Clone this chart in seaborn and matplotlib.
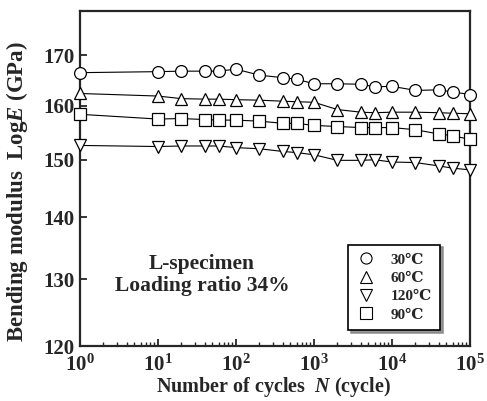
import numpy as np
import pandas as pd
import seaborn as sns
import matplotlib
matplotlib.use("Agg")
import matplotlib.pyplot as plt
from matplotlib.lines import Line2D
from matplotlib.ticker import NullLocator, LogLocator

# data
cycles = [1, 10, 20, 40, 60, 100, 200, 400, 600, 1000, 2000, 4000, 6000,
          1e4, 2e4, 4e4, 6e4, 1e5]
e_30 = [166.5, 166.7, 166.8, 166.8, 166.8, 167.2, 166.0, 165.5, 165.2, 164.3,
        164.3, 164.2, 163.7, 163.8, 163.0, 163.1, 162.7, 162.2]
e_60 = [162.4, 161.9, 161.4, 161.3, 161.3, 161.2, 161.1, 160.9, 160.8, 160.7,
        159.3, 158.8, 158.7, 158.8, 158.8, 158.7, 158.6, 158.5]
e_120 = [152.6, 152.4, 152.5, 152.5, 152.5, 152.2, 152.0, 151.5, 151.3, 150.9,
         149.9, 149.9, 150.0, 149.6, 149.5, 148.9, 148.5, 148.2]
e_90 = [158.4, 157.5, 157.6, 157.4, 157.3, 157.3, 157.1, 156.7, 156.7, 156.3,
        156.1, 155.9, 155.9, 155.9, 155.5, 154.7, 154.4, 153.7]

series = {'30℃': (e_30, 'o'), '60℃': (e_60, '^'),
          '120℃': (e_120, 'v'), '90℃': (e_90, 's')}
yticks = [120, 130, 140, 150, 160, 170]
xticks = [1, 10, 100, 1000, 1e4, 1e5]
xticklabels = ['$10^{%d}$' % i for i in range(6)]

sns.set_style('ticks')
plt.rcParams['font.family'] = ['Liberation Serif', 'DejaVu Serif']
plt.rcParams['font.weight'] = 'bold'
plt.rcParams['mathtext.fontset'] = 'custom'
plt.rcParams['mathtext.rm'] = 'Liberation Serif:bold'
plt.rcParams['mathtext.it'] = 'Liberation Serif:italic:bold'
plt.rcParams['mathtext.bf'] = 'Liberation Serif:bold'

fig, ax = plt.subplots(figsize=(4.87, 4.01), dpi=100)
fig.subplots_adjust(left=0.164, right=0.965, top=0.973, bottom=0.137)

handles = []
for name, (vals, mk) in series.items():
    df = pd.DataFrame({'N': cycles, 'E': vals})
    sns.lineplot(data=df, x='N', y='E', ax=ax, color='black', lw=0.8,
                 marker=mk, markersize=8.5, markerfacecolor='white',
                 markeredgecolor='black', markeredgewidth=0.9, zorder=3,
                 clip_on=False)
    handles.append(Line2D([], [], ls='none', marker=mk, markersize=8,
                          markerfacecolor='white', markeredgecolor='black',
                          markeredgewidth=0.8, label=name))

ax.set_xscale('log')
ax.set_yscale('log')
ax.set_xlim(1, 1e5)
ax.set_ylim(120, 179.3)
ax.set_yticks(yticks)
ax.set_yticklabels([str(t) for t in yticks], fontweight='bold', fontsize=15)
ax.yaxis.set_minor_locator(NullLocator())
ax.set_xticks(xticks)
ax.set_xticklabels(xticklabels, fontsize=15)
ax.xaxis.set_minor_locator(LogLocator(base=10, subs=np.arange(2, 10), numticks=10))

ax.tick_params(axis='both', which='major', direction='in', length=5, width=1.3,
               pad=4)
ax.tick_params(axis='x', which='major', pad=6)
ax.tick_params(axis='both', which='minor', direction='in', length=3, width=1.0)
for sp in ax.spines.values():
    sp.set_linewidth(1.6)

ax.set_xlabel('Number of cycles  $N$ (cycle)', fontsize=14.5, fontweight='bold')
ax.set_ylabel('Bending modulus  Log$E$ (GPa)', fontsize=16.5, fontweight='bold')
ax.xaxis.set_label_coords(0.497, -0.087)
ax.yaxis.set_label_coords(-0.128, 0.46)

ax.text(0.313, 0.212, 'L-specimen\nLoading ratio 34%', transform=ax.transAxes,
        ha='center', va='center', fontsize=15.5, fontweight='bold',
        linespacing=1.1)

leg = ax.legend(handles=handles, loc='lower right', bbox_to_anchor=(0.923, 0.048),
                frameon=True, fancybox=False, shadow={'color': 'gray', 'alpha': 0.8},
                edgecolor='black', fontsize=11, handlelength=1.2,
                handletextpad=1.0, borderpad=0.55, labelspacing=0.3,
                borderaxespad=0)
leg.get_frame().set_linewidth(1.2)
leg.get_frame().set_alpha(1)

fig.savefig('out.png', dpi=100)
